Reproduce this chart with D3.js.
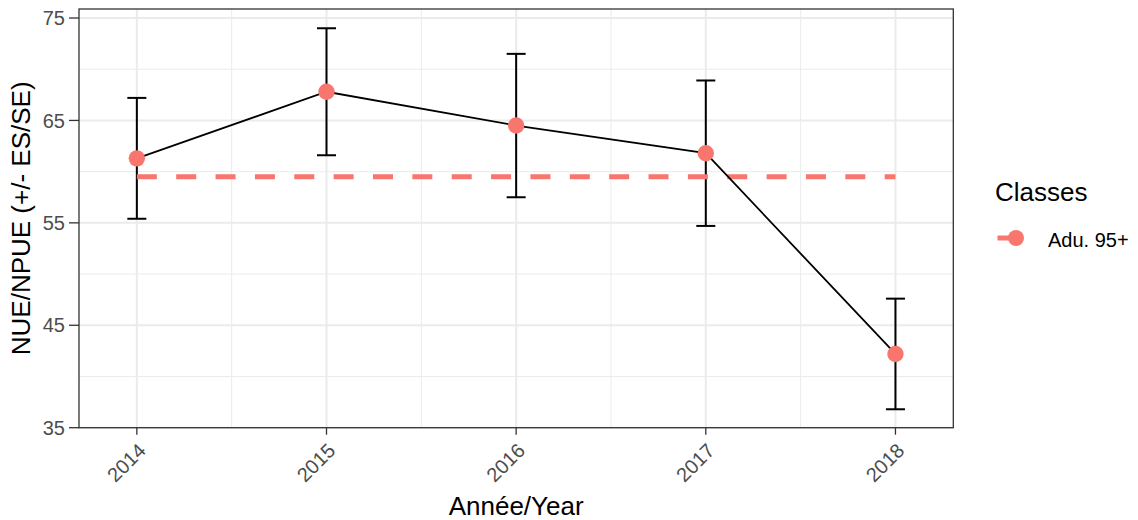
<!DOCTYPE html>
<html>
<head>
<meta charset="utf-8">
<script src="https://cdn.jsdelivr.net/npm/d3@7"></script>
<style>
  body { margin: 0; background: #fff; }
  text { font-family: "Liberation Sans", Arial, sans-serif; }
</style>
</head>
<body>
<div id="chart"></div>
<script>
// data
var years = [2014, 2015, 2016, 2017, 2018]
var nue = [61.3, 67.8, 64.5, 61.8, 42.2]
var upper = [67.2, 74.0, 71.5, 68.9, 47.6]
var lower = [55.4, 61.6, 57.5, 54.7, 36.8]
var classMean = 59.5
var className = "Adu. 95+"
var yTicks = [35, 45, 55, 65, 75]
var yMinor = [40, 50, 60, 70]
var xMinor = [2014.5, 2015.5, 2016.5, 2017.5]

var width = 1138, height = 520
var panel = {left: 79, right: 953.3, top: 9, bottom: 427.7}
var pink = "#F8766D"

var svg = d3.select("#chart").append("svg")
  .attr("width", width)
  .attr("height", height)

var x = d3.scaleLinear()
  .domain([2014 - 0.305, 2018 + 0.305])
  .range([panel.left, panel.right])

var y = d3.scaleLinear()
  .domain([35, 75.88])
  .range([panel.bottom, panel.top])

var rows = years.map(function(yr, i) {
  return {year: yr, value: nue[i], hi: upper[i], lo: lower[i]}
})

// grid
var grid = svg.append("g")
grid.selectAll(".ymin").data(yMinor).enter().append("line")
  .attr("x1", panel.left).attr("x2", panel.right)
  .attr("y1", y).attr("y2", y)
  .attr("stroke", "#EBEBEB").attr("stroke-width", 1)
grid.selectAll(".xmin").data(xMinor).enter().append("line")
  .attr("y1", panel.top).attr("y2", panel.bottom)
  .attr("x1", x).attr("x2", x)
  .attr("stroke", "#EBEBEB").attr("stroke-width", 1)
grid.selectAll(".ymaj").data(yTicks).enter().append("line")
  .attr("x1", panel.left).attr("x2", panel.right)
  .attr("y1", y).attr("y2", y)
  .attr("stroke", "#EBEBEB").attr("stroke-width", 2)
grid.selectAll(".xmaj").data(years).enter().append("line")
  .attr("y1", panel.top).attr("y2", panel.bottom)
  .attr("x1", x).attr("x2", x)
  .attr("stroke", "#EBEBEB").attr("stroke-width", 2)

// error bars
var bars = svg.append("g").attr("stroke", "#000").attr("stroke-width", 2)
bars.selectAll(".v").data(rows).enter().append("line")
  .attr("x1", function(d) { return x(d.year) })
  .attr("x2", function(d) { return x(d.year) })
  .attr("y1", function(d) { return y(d.lo) })
  .attr("y2", function(d) { return y(d.hi) })
;["lo", "hi"].forEach(function(k) {
  bars.selectAll(".c" + k).data(rows).enter().append("line")
    .attr("x1", function(d) { return x(d.year) - 9.5 })
    .attr("x2", function(d) { return x(d.year) + 9.5 })
    .attr("y1", function(d) { return y(d[k]) })
    .attr("y2", function(d) { return y(d[k]) })
})

// dashed mean line
svg.append("line")
  .attr("x1", x(years[0])).attr("x2", x(years[years.length - 1]))
  .attr("y1", y(classMean)).attr("y2", y(classMean))
  .attr("stroke", pink).attr("stroke-width", 5)
  .attr("stroke-dasharray", "20,19.36")

// black line through the points
svg.append("path")
  .datum(rows)
  .attr("fill", "none")
  .attr("stroke", "#000")
  .attr("stroke-width", 1.8)
  .attr("d", d3.line().x(function(d) { return x(d.year) }).y(function(d) { return y(d.value) }))

// points
svg.append("g").selectAll("circle").data(rows).enter().append("circle")
  .attr("cx", function(d) { return x(d.year) })
  .attr("cy", function(d) { return y(d.value) })
  .attr("r", 8.2)
  .attr("fill", pink)

// panel border
svg.append("rect")
  .attr("x", panel.left).attr("y", panel.top)
  .attr("width", panel.right - panel.left).attr("height", panel.bottom - panel.top)
  .attr("fill", "none").attr("stroke", "#333").attr("stroke-width", 1.3)

// y axis
var yAxis = svg.append("g")
yAxis.selectAll("line").data(yTicks).enter().append("line")
  .attr("x1", panel.left - 10).attr("x2", panel.left)
  .attr("y1", y).attr("y2", y)
  .attr("stroke", "#333").attr("stroke-width", 1.3)
yAxis.selectAll("text").data(yTicks).enter().append("text")
  .attr("x", panel.left - 14)
  .attr("y", y)
  .attr("dy", "0.36em")
  .attr("text-anchor", "end")
  .attr("font-size", 20)
  .attr("fill", "#4D4D4D")
  .text(function(d) { return d })

// x axis
var xAxis = svg.append("g")
xAxis.selectAll("line").data(years).enter().append("line")
  .attr("x1", x).attr("x2", x)
  .attr("y1", panel.bottom).attr("y2", panel.bottom + 7)
  .attr("stroke", "#333").attr("stroke-width", 1.3)
xAxis.selectAll("text").data(years).enter().append("text")
  .attr("transform", function(d) { return "translate(" + x(d) + "," + (panel.bottom + 14) + ") rotate(-45)" })
  .attr("dy", "0.72em")
  .attr("text-anchor", "end")
  .attr("font-size", 20)
  .attr("fill", "#4D4D4D")
  .text(function(d) { return d })

// axis titles
svg.append("text")
  .attr("x", (panel.left + panel.right) / 2)
  .attr("y", 515)
  .attr("text-anchor", "middle")
  .attr("font-size", 26)
  .attr("fill", "#000")
  .text("Année/Year")

svg.append("text")
  .attr("transform", "translate(30," + ((panel.top + panel.bottom) / 2) + ") rotate(-90)")
  .attr("text-anchor", "middle")
  .attr("font-size", 26)
  .attr("fill", "#000")
  .text("NUE/NPUE (+/- ES/SE)")

// legend
var legend = svg.append("g")
legend.append("text")
  .attr("x", 995).attr("y", 201)
  .attr("font-size", 26)
  .attr("fill", "#000")
  .text("Classes")
legend.append("line")
  .attr("x1", 997.5).attr("x2", 1034.5)
  .attr("y1", 238).attr("y2", 238)
  .attr("stroke", pink).attr("stroke-width", 5)
  .attr("stroke-dasharray", "17,40")
legend.append("circle")
  .attr("cx", 1016).attr("cy", 238).attr("r", 8)
  .attr("fill", pink)
legend.append("text")
  .attr("x", 1048).attr("y", 246.5)
  .attr("font-size", 20)
  .attr("fill", "#000")
  .text(className)
</script>
</body>
</html>
